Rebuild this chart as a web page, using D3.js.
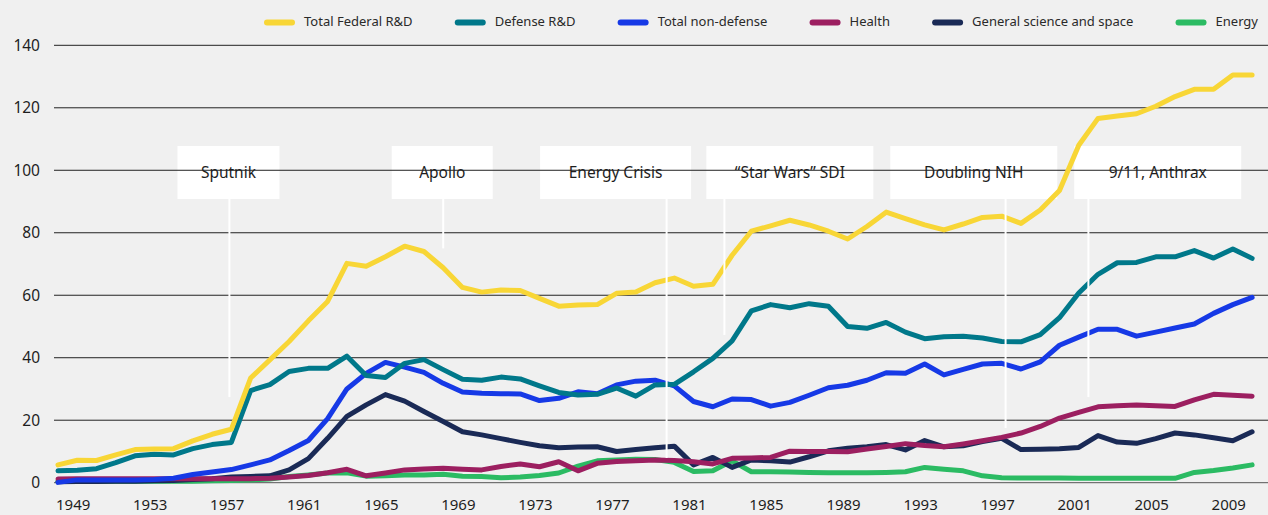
<!DOCTYPE html>
<html>
<head>
<meta charset="utf-8">
<script src="https://cdn.jsdelivr.net/npm/d3@7/dist/d3.min.js"></script>
<style>
  html, body { margin: 0; padding: 0; background: #f0f0f0; }
  svg { display: block; font-family: "Noto Sans", sans-serif; }
</style>
</head>
<body>
<div id="chart"></div>
<script>
// fiscal years shown on the chart
const years = d3.range(1949, 2012)

// billions of constant dollars (1949 .. 2011)
const totalFederal = [5.7, 7.2, 7.1, 8.9, 10.6, 10.8, 10.9, 13.4, 15.5, 17.1,
  33.5, 39.3, 45.2, 51.8, 58.0, 70.2, 69.3, 72.3, 75.7, 74.0,
  68.8, 62.5, 61.0, 61.7, 61.5, 59.0, 56.5, 56.9, 57.0, 60.6,
  61.0, 64.0, 65.5, 62.9, 63.5, 72.8, 80.5, 82.2, 84.0, 82.5,
  80.5, 78.0, 82.0, 86.6, 84.5, 82.5, 80.9, 82.8, 84.9, 85.3,
  83.0, 87.3, 93.5, 108.0, 116.6, 117.4, 118.1, 120.5, 123.6, 125.9,
  125.9, 130.5, 130.5]
const defense = [3.8, 4.0, 4.5, 6.4, 8.6, 9.1, 8.9, 10.9, 12.2, 12.9,
  29.5, 31.4, 35.6, 36.6, 36.6, 40.5, 34.3, 33.7, 38.2, 39.4,
  36.2, 33.1, 32.8, 33.8, 33.2, 31.0, 28.9, 28.1, 28.3, 30.3,
  27.7, 31.3, 31.5, 35.5, 39.8, 45.4, 55.0, 57.0, 56.0, 57.3,
  56.5, 50.0, 49.4, 51.3, 48.2, 46.1, 46.7, 46.9, 46.3, 45.2,
  45.1, 47.4, 52.8, 60.7, 66.7, 70.4, 70.5, 72.3, 72.3, 74.3,
  71.9, 74.8, 71.8]
const nonDefense = [0.1, 0.9, 0.9, 0.9, 0.9, 1.0, 1.4, 2.6, 3.4, 4.2,
  5.7, 7.3, 10.3, 13.5, 20.5, 30.0, 35.0, 38.5, 37.0, 35.3,
  31.8, 29.0, 28.6, 28.5, 28.4, 26.3, 27.0, 29.1, 28.5, 31.3,
  32.5, 32.8, 31.0, 26.0, 24.3, 26.8, 26.6, 24.5, 25.7, 28.0,
  30.4, 31.2, 32.8, 35.2, 35.0, 38.0, 34.5, 36.3, 38.0, 38.2,
  36.4, 38.7, 44.0, 46.6, 49.1, 49.1, 46.9, 48.2, 49.5, 50.8,
  54.2, 57.0, 59.3]
const health = [1.2, 1.3, 1.3, 1.3, 1.3, 1.3, 1.3, 1.3, 1.3, 1.3,
  1.3, 1.4, 1.8, 2.3, 3.2, 4.3, 2.2, 3.1, 4.1, 4.4,
  4.6, 4.3, 4.1, 5.2, 6.0, 5.1, 6.7, 3.8, 6.2, 6.8,
  7.0, 7.3, 7.1, 6.7, 6.0, 7.8, 7.9, 8.1, 10.1, 10.0,
  10.0, 9.9, 10.8, 11.6, 12.5, 11.9, 11.5, 12.4, 13.4, 14.5,
  15.9, 18.0, 20.7, 22.5, 24.3, 24.6, 24.9, 24.6, 24.4, 26.5,
  28.3, 28.0, 27.7]
const generalScience = [0.3, 0.4, 0.4, 0.5, 0.5, 0.6, 0.7, 1.0, 1.3, 1.8,
  2.0, 2.2, 4.1, 7.7, 14.2, 21.2, 24.9, 28.2, 26.1, 22.8,
  19.6, 16.3, 15.3, 14.1, 12.9, 11.8, 11.2, 11.4, 11.5, 10.0,
  10.6, 11.2, 11.7, 5.7, 8.1, 4.9, 7.3, 7.0, 6.6, 8.3,
  10.2, 11.0, 11.5, 12.2, 10.5, 13.5, 11.5, 11.8, 13.2, 14.2,
  10.6, 10.7, 10.9, 11.3, 15.1, 13.0, 12.6, 14.1, 15.9, 15.3,
  14.4, 13.4, 16.3]
const energy = [0.5, 0.5, 0.5, 0.5, 0.5, 0.5, 0.5, 0.5, 0.6, 0.7,
  0.9, 1.2, 2.0, 2.5, 3.1, 3.2, 2.1, 2.2, 2.5, 2.5,
  2.7, 2.1, 2.0, 1.6, 1.8, 2.3, 3.1, 5.3, 7.0, 7.3,
  7.5, 7.4, 6.5, 3.6, 3.8, 7.0, 3.5, 3.5, 3.4, 3.3,
  3.2, 3.2, 3.2, 3.3, 3.5, 4.9, 4.3, 3.8, 2.2, 1.6,
  1.5, 1.5, 1.5, 1.4, 1.4, 1.4, 1.4, 1.4, 1.4, 3.3,
  3.9, 4.7, 5.7]

const seriesNames = ["Total Federal R&D", "Defense R&D", "Total non-defense",
  "Health", "General science and space", "Energy"]
const seriesValues = [totalFederal, defense, nonDefense, health, generalScience, energy]
const seriesColors = ["#f8d636", "#00788a", "#1639e6", "#9c1f60", "#1a2a56", "#2bbb63"]

const yTicks = [0, 20, 40, 60, 80, 100, 120, 140]
const xTickYears = [1949, 1953, 1957, 1961, 1965, 1969, 1973, 1977,
  1981, 1985, 1989, 1993, 1997, 2001, 2005, 2009]

// event annotations: label, year of the marker line, value where the line stops
const annoLabels = ["Sputnik", "Apollo", "Energy Crisis", "\u201cStar Wars\u201d SDI", "Doubling NIH", "9/11, Anthrax"]
const annoYears = [1957.9, 1969, 1980.6, 1983.6, 1998.2, 2002.5]
const annoLineEnds = [27.4, 75, 7.9, 47.3, 17.5, 27.4]
// where each label box sits (year of its centre) and how wide it is
const annoBoxYears = [1957.85, 1968.95, 1977.95, 1987, 1996.55, 2006.1]
const annoBoxWidths = [102, 101, 151, 167, 167, 167]

/**
 * Chart dimensions.
 */
function graphDimensions() {
  return { width: 1268, height: 515, plotTop: 45.3, plotBottom: 482.7,
    xStart: 58, xEnd: 1252.1, gridLeft: 54, gridRight: 1268,
    legendLeft: 264, legendRight: 1258 }
}

function XScale(dim) {
  return d3.scaleLinear().domain([1949, 2011]).range([dim.xStart, dim.xEnd])
}

function YScale(dim) {
  return d3.scaleLinear().domain([0, 140]).range([dim.plotBottom, dim.plotTop])
}

function appendToDom(dim) {
  return d3.select("#chart").append("svg")
    .attr("width", dim.width)
    .attr("height", dim.height)
}

/**
 * White label boxes with the event names (drawn under the grid).
 */
function drawAnnotationBoxes(svg, x) {
  const g = svg.append("g").attr("class", "anno-boxes")
  annoLabels.forEach((label, i) => {
    const cx = x(annoBoxYears[i])
    g.append("rect")
      .attr("x", cx - annoBoxWidths[i] / 2)
      .attr("y", 146)
      .attr("width", annoBoxWidths[i])
      .attr("height", 53)
      .attr("fill", "#ffffff")
    g.append("text")
      .attr("x", cx)
      .attr("y", 178)
      .attr("text-anchor", "middle")
      .style("font-size", "15.5px")
      .attr("fill", "#1e1e1e")
      .text(label)
  })
}

function drawGrid(svg, y, dim) {
  svg.append("g").attr("class", "grid")
    .selectAll("line")
    .data(yTicks)
    .enter()
    .append("line")
      .attr("x1", dim.gridLeft)
      .attr("x2", dim.gridRight)
      .attr("y1", d => y(d))
      .attr("y2", d => y(d))
      .attr("stroke", d => d === 0 ? "#555" : "#222")
      .attr("stroke-width", 1)
}

function drawYAxis(svg, y) {
  svg.append("g").attr("class", "axis axis--y")
    .selectAll("text")
    .data(yTicks)
    .enter()
    .append("text")
      .attr("x", 40)
      .attr("y", d => y(d))
      .attr("dy", "0.35em")
      .attr("text-anchor", "end")
      .style("font-size", "15.5px")
      .attr("fill", "#1e1e1e")
      .text(d => d)
}

function drawXAxis(svg, x) {
  svg.append("g").attr("class", "axis axis--x")
    .selectAll("text")
    .data(xTickYears)
    .enter()
    .append("text")
      .attr("x", d => x(d) - 2)
      .attr("y", 510)
      .attr("text-anchor", "start")
      .style("font-size", "15px")
      .attr("fill", "#1e1e1e")
      .text(d => d)
}

/**
 * Draws the six series, the first in the legend ends up on top.
 */
function drawLines(svg, x, y) {
  const line = d3.line()
    .x((d, i) => x(years[i]))
    .y(d => y(d))
  const order = d3.range(seriesValues.length).reverse()
  svg.append("g").attr("class", "series")
    .selectAll("path")
    .data(order)
    .enter()
    .append("path")
      .attr("fill", "none")
      .attr("stroke", i => seriesColors[i])
      .attr("stroke-width", 5)
      .attr("stroke-linejoin", "round")
      .attr("stroke-linecap", "round")
      .attr("d", i => line(seriesValues[i]))
}

/**
 * White leader lines from the boxes down into the plot.
 */
function drawAnnotationLines(svg, x, y) {
  svg.append("g").attr("class", "anno-lines")
    .selectAll("line")
    .data(annoYears)
    .enter()
    .append("line")
      .attr("x1", d => x(d))
      .attr("x2", d => x(d))
      .attr("y1", 199)
      .attr("y2", (d, i) => y(annoLineEnds[i]))
      .attr("stroke", "#ffffff")
      .attr("stroke-width", 2)
}

/**
 * Legend across the top; spacing is spread so it runs from legendLeft to legendRight.
 */
function drawLegend(svg, dim) {
  const g = svg.append("g").attr("class", "legend")
  const items = seriesNames.map((name, i) => {
    const item = g.append("g")
    item.append("rect")
      .attr("y", 19.5)
      .attr("width", 31)
      .attr("height", 6)
      .attr("rx", 3)
      .attr("fill", seriesColors[i])
    const t = item.append("text")
      .attr("x", 40)
      .attr("y", 26)
      .style("font-size", "13px")
      .attr("fill", "#2a2a2a")
      .text(name)
    return { item, w: 40 + t.node().getComputedTextLength() }
  })
  const total = d3.sum(items, d => d.w)
  const gap = (dim.legendRight - dim.legendLeft - total) / (items.length - 1)
  let cursor = dim.legendLeft
  items.forEach(d => {
    d.item.attr("transform", "translate(" + cursor + ",0)")
    cursor += d.w + gap
  })
}

function drawGraph() {
  const dim = graphDimensions()
  const svg = appendToDom(dim)
  const x = XScale(dim)
  const y = YScale(dim)
  drawAnnotationBoxes(svg, x)
  drawGrid(svg, y, dim)
  drawYAxis(svg, y)
  drawXAxis(svg, x)
  drawLines(svg, x, y)
  drawAnnotationLines(svg, x, y)
  drawLegend(svg, dim)
}

drawGraph()
</script>
</body>
</html>
